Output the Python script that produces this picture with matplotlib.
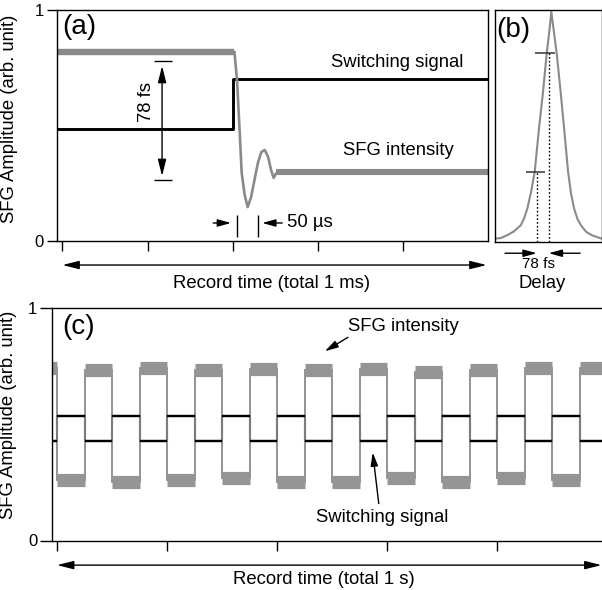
import numpy as np
import matplotlib
matplotlib.use("Agg")
import matplotlib.pyplot as plt

plt.rcParams['font.family'] = ['Liberation Sans', 'DejaVu Sans']
plt.rcParams['axes.linewidth'] = 1.0

# ---------------- data: panel (a) (record time in ms, amplitude 0..1) -------------
a_time_ticks = [0.0, 0.2, 0.4, 0.6, 0.8]
a_switch_t = [-0.012, 0.401, 0.401, 1.0]
a_switch_v = [0.485, 0.485, 0.701, 0.701]
a_sfg_pre_t = [-0.012, 0.404]
a_sfg_pre_v = [0.818, 0.818]
a_sfg_dip_t = [0.404, 0.410, 0.416, 0.421, 0.428, 0.435, 0.443, 0.451, 0.459,
               0.467, 0.475, 0.483, 0.490, 0.496, 0.502, 0.510]
a_sfg_dip_v = [0.818, 0.697, 0.481, 0.294, 0.199, 0.147, 0.190, 0.264, 0.338,
               0.385, 0.394, 0.364, 0.307, 0.273, 0.294, 0.299]
a_sfg_post_t = [0.502, 1.0]
a_sfg_post_v = [0.299, 0.299]

# ---------------- data: panel (b) (delay in fs) ----------------
b_delay = [-366, -330, -288, -243, -199, -177, -156, -132, -108, -80, -54, -30,
           -12, 0, 14, 35, 60, 83, 109, 128, 148, 170, 193, 226, 265, 326]
b_amp = [0.016, 0.018, 0.030, 0.047, 0.073, 0.103, 0.145, 0.216, 0.303, 0.491,
         0.647, 0.813, 0.914, 0.993, 0.920, 0.813, 0.650, 0.491, 0.303, 0.210,
         0.145, 0.100, 0.073, 0.045, 0.030, 0.016]
b_mark_levels = [0.813, 0.303]
b_mark_left = [-106, -166]
b_mark_right = [22, -41]
b_dotted_x = [-17, -95]

# ---------------- data: panel (c) (record time in s) ----------------
c_time_ticks = [0.0, 0.2, 0.4, 0.6, 0.8]
c_edges = [0.00, 0.05, 0.10, 0.15, 0.20, 0.25, 0.30, 0.35, 0.40, 0.45,
           0.50, 0.55, 0.60, 0.65, 0.70, 0.75, 0.80, 0.85, 0.90, 0.95]
c_sfg_high = [0.744, 0.735, 0.744, 0.735, 0.739, 0.735, 0.739, 0.726, 0.735, 0.744, 0.744]
c_sfg_low = [0.261, 0.252, 0.261, 0.269, 0.252, 0.252, 0.269, 0.252, 0.269, 0.261]
c_switch_high = 0.537
c_switch_low = 0.429

GRAY = '#8a8a8a'
FS = 13.3

fig = plt.figure(figsize=(6.02, 5.90), dpi=100)
W, H = 602.0, 590.0


def px_axes(left, top, right, bottom):
    return fig.add_axes([left / W, 1 - bottom / H, (right - left) / W, (bottom - top) / H])


axa = px_axes(57.3, 10, 488.3, 241)
axb = px_axes(495, 10, 601.5, 242.3)
axc = px_axes(52, 308.3, 603, 540.5)

arrow1 = dict(arrowstyle='-|>,head_length=0.8,head_width=0.22', color='k', lw=1,
              shrinkA=0, shrinkB=0, mutation_scale=10)
arrow2 = dict(arrowstyle='<|-|>,head_length=1.0,head_width=0.25', color='k', lw=1,
              shrinkA=0, shrinkB=0, mutation_scale=10)

# ================= panel (a) =================
axa.plot(a_switch_t, a_switch_v, color='k', lw=2.1)
axa.plot(a_sfg_pre_t, a_sfg_pre_v, color=GRAY, lw=4.6, solid_capstyle='butt')
axa.plot(a_sfg_dip_t, a_sfg_dip_v, color=GRAY, lw=1.9, solid_joinstyle='round')
axa.plot(a_sfg_post_t, a_sfg_post_v, color=GRAY, lw=4.4, solid_capstyle='butt')
axa.set_xlim(-0.012, 1.0)
axa.set_ylim(0, 1)
axa.set_xticks(a_time_ticks)
axa.set_yticks([0, 1])
axa.set_yticklabels(['0', '1'], fontsize=12)
axa.tick_params(axis='x', direction='out', length=7, width=1, labelbottom=False)
axa.tick_params(axis='y', direction='out', length=7.5, width=1, pad=2)
axa.set_ylabel('SFG Amplitude (arb. unit)', fontsize=FS)
axa.yaxis.set_label_coords(-0.091, 0.53)
axa.text(0.011, 0.926, '(a)', transform=axa.transAxes, fontsize=20, ha='left', va='center')
axa.text(0.785, 0.771, 'Switching signal', ha='center', va='center', fontsize=FS)
axa.text(0.790, 0.390, 'SFG intensity', ha='center', va='center', fontsize=FS)
# 78 fs vertical arrow
axa.annotate('', xy=(0.234, 0.758), xytext=(0.234, 0.281), arrowprops=arrow2)
axa.hlines([0.779, 0.264], 0.215, 0.257, color='k', lw=1)
axa.text(0.198, 0.600, '78 fs', rotation=90, ha='center', va='center', fontsize=FS)
# 50 us marker
axa.vlines([0.410, 0.459], 0.017, 0.113, color='k', lw=1)
axa.annotate('', xy=(0.396, 0.078), xytext=(0.354, 0.078), arrowprops=arrow1)
axa.annotate('', xy=(0.469, 0.078), xytext=(0.516, 0.078), arrowprops=arrow1)
axa.text(0.528, 0.078, '50 \u00b5s', ha='left', va='center', fontsize=FS)
# record time arrow
tra = axa.get_xaxis_transform()
axa.annotate('', xy=(0.996, -0.104), xytext=(0.0, -0.104), xycoords=tra, textcoords=tra,
             arrowprops=arrow2, annotation_clip=False)
axa.text(0.492, -0.182, 'Record time (total 1 ms)', transform=tra, ha='center', va='center',
         fontsize=FS)

# ================= panel (b) =================
axb.plot(b_delay, b_amp, color=GRAY, lw=1.5)
axb.hlines(b_mark_levels, b_mark_left, b_mark_right, color='#333333', lw=1.1)
axb.vlines(b_dotted_x, 0, b_mark_levels, color='k', lw=1, linestyles=(0, (1.2, 1.5)))
axb.set_xlim(-366, 326)
axb.set_ylim(0, 1)
axb.set_xticks([])
axb.set_yticks([])
axb.text(0.01, 0.916, '(b)', transform=axb.transAxes, fontsize=20, ha='left', va='center')
trb = axb.get_xaxis_transform()
axb.annotate('', xy=(b_dotted_x[1], -0.047), xytext=(-301, -0.047), xycoords=trb,
             textcoords=trb, arrowprops=arrow1, annotation_clip=False)
axb.annotate('', xy=(b_dotted_x[0], -0.047), xytext=(187, -0.047), xycoords=trb,
             textcoords=trb, arrowprops=arrow1, annotation_clip=False)
axb.text(-86, -0.095, '78 fs', transform=trb, ha='center', va='center', fontsize=11)
axb.text(-60, -0.177, 'Delay', transform=trb, ha='center', va='center', fontsize=FS)

# ================= panel (c) =================
c_xmin, c_xmax = -0.0091, 0.9927
bounds = [c_xmin] + c_edges + [c_xmax]
sfg_levels = []
sw_levels = []
for i in range(len(c_sfg_high)):
    sfg_levels.append(c_sfg_high[i])
    sw_levels.append(c_switch_low)
    if i < len(c_sfg_low):
        sfg_levels.append(c_sfg_low[i])
        sw_levels.append(c_switch_high)
axc.stairs(sw_levels, bounds, baseline=None, color='k', lw=1.5)
axc.stairs(sfg_levels, bounds, baseline=None, color=GRAY, lw=1.3)
axc.hlines(sfg_levels, bounds[:-1], bounds[1:], color='#959595', lw=9.5)
axc.hlines(sw_levels, bounds[:-1], bounds[1:], color='k', lw=1.7)
axc.set_xlim(c_xmin, c_xmax)
axc.set_ylim(0, 1)
axc.spines['right'].set_visible(False)
axc.set_xticks(c_time_ticks)
axc.set_yticks([0, 1])
axc.set_yticklabels(['0', '1'], fontsize=12)
axc.tick_params(axis='x', direction='out', length=7, width=1, labelbottom=False)
axc.tick_params(axis='y', direction='out', length=8.5, width=1, pad=2)
axc.set_ylabel('SFG Amplitude (arb. unit)', fontsize=FS)
axc.yaxis.set_label_coords(-0.064, 0.541)
axc.text(0.018, 0.92, '(c)', transform=axc.transAxes, fontsize=20, ha='left', va='center')
axc.text(0.629, 0.922, 'SFG intensity', ha='center', va='center', fontsize=FS)
axc.annotate('', xy=(0.487, 0.815), xytext=(0.529, 0.875), arrowprops=arrow1)
axc.text(0.591, 0.099, 'Switching signal', ha='center', va='center', fontsize=FS)
axc.annotate('', xy=(0.574, 0.379), xytext=(0.585, 0.159), arrowprops=arrow1)
trc = axc.get_xaxis_transform()
axc.annotate('', xy=(0.990, -0.106), xytext=(0.0, -0.106), xycoords=trc, textcoords=trc,
             arrowprops=arrow2, annotation_clip=False)
axc.text(0.485, -0.170, 'Record time (total 1 s)', transform=trc, ha='center', va='center',
         fontsize=FS)

fig.savefig('out.png', dpi=100)
